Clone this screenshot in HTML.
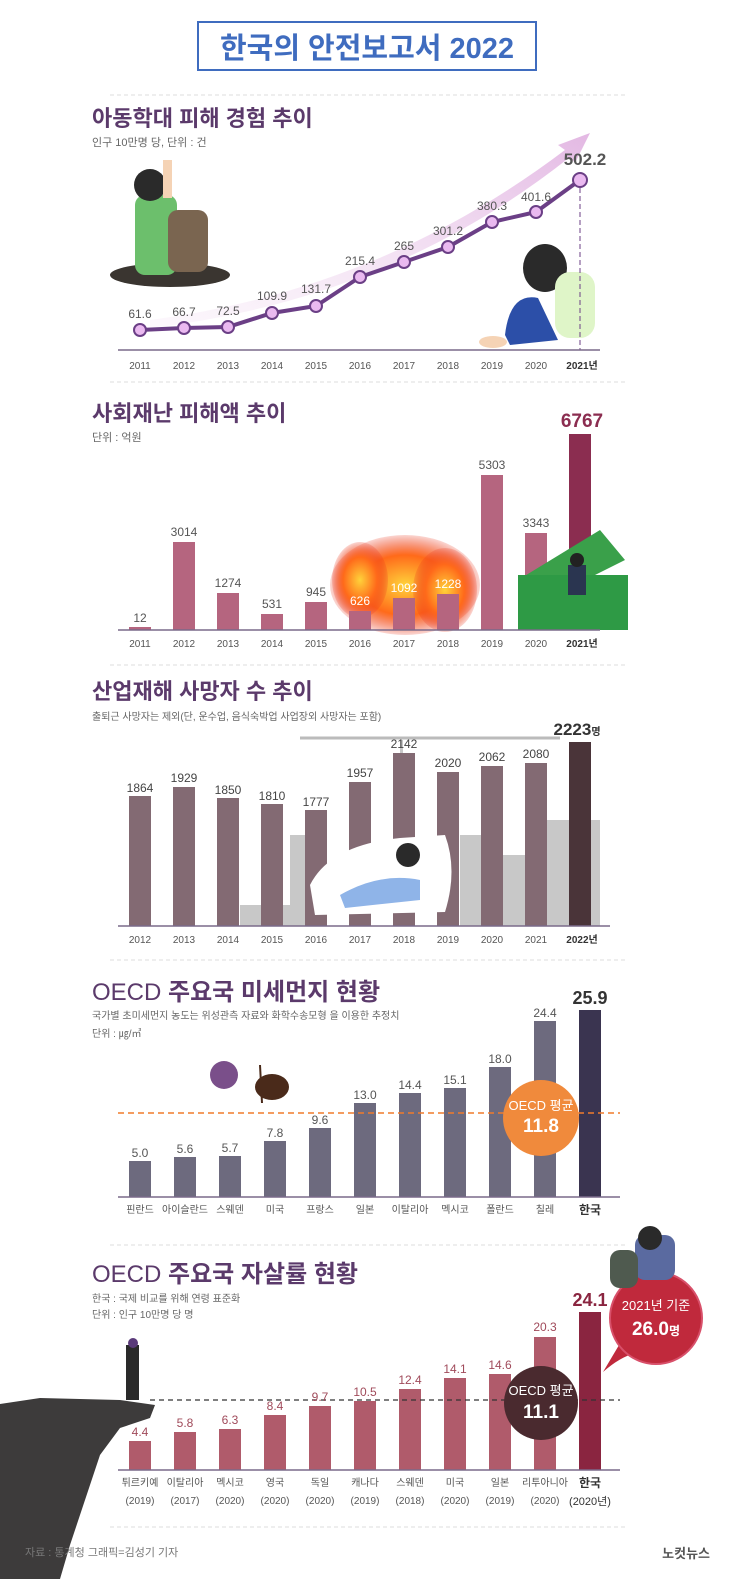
<!DOCTYPE html>
<html><head><meta charset="utf-8"><style>
body{margin:0;background:#fff}
svg{display:block}
text{font-family:"Liberation Sans","Noto Sans CJK KR",sans-serif}
</style></head><body>
<svg width="740" height="1579" viewBox="0 0 740 1579" xmlns="http://www.w3.org/2000/svg">
<defs>
<linearGradient id="ar" x1="0" y1="1" x2="1" y2="0"><stop offset="0" stop-color="#f5e6f5" stop-opacity="0.3"/><stop offset="1" stop-color="#e3b8e3"/></linearGradient>
<radialGradient id="fire"><stop offset="0" stop-color="#ffd23a"/><stop offset="0.6" stop-color="#ff6a1a"/><stop offset="1" stop-color="#e8321a" stop-opacity="0.2"/></radialGradient>
</defs>
<!-- Title -->
<rect x="198" y="22" width="338" height="48" fill="#fff" stroke="#3f6cbf" stroke-width="2"/>
<text x="367" y="58" font-size="29" font-weight="bold" fill="#3f6cbf" text-anchor="middle">한국의 안전보고서 2022</text>

<g stroke="#ddd" stroke-dasharray="4,3" stroke-width="1">
<line x1="110" y1="95" x2="625" y2="95"/><line x1="110" y1="382" x2="625" y2="382"/><line x1="110" y1="665" x2="625" y2="665"/><line x1="110" y1="960" x2="625" y2="960"/><line x1="110" y1="1245" x2="625" y2="1245"/><line x1="110" y1="1527" x2="625" y2="1527"/>
</g>

<!-- Chart 1 -->
<text x="92" y="126" font-size="22" font-weight="bold" fill="#5b3a6b">아동학대 피해 경험 추이</text>
<text x="92" y="146" font-size="11" fill="#666">인구 10만명 당, 단위 : 건</text>
<path d="M150 320 Q380 290 565 150 L558 145 L590 133 L575 163 L570 157 Q390 300 150 328 Z" fill="url(#ar)"/>
<ellipse cx="170" cy="275" rx="60" ry="12" fill="#3a3530"/>
<rect x="135" y="195" width="42" height="80" rx="10" fill="#6cbf6c"/>
<rect x="168" y="210" width="40" height="62" rx="10" fill="#7a6550"/>
<circle cx="150" cy="185" r="16" fill="#2a2a2a"/>
<rect x="163" y="160" width="9" height="38" fill="#f5d3b5"/>
<ellipse cx="545" cy="268" rx="22" ry="24" fill="#2a2a2a"/>
<rect x="555" y="272" width="40" height="66" rx="15" fill="#dff5c8"/>
<path d="M505 335 Q510 292 538 298 L558 340 L510 345 Z" fill="#2c4fa8"/>
<ellipse cx="493" cy="342" rx="14" ry="6" fill="#f5d3b5"/>
<line x1="580" y1="180" x2="580" y2="350" stroke="#6b3f86" stroke-dasharray="5,3"/>
<line x1="118" y1="350" x2="600" y2="350" stroke="#7a6a8a" stroke-width="1.5"/>
<polyline points="140,330 184,328 228,327 272,313 316,306 360,277 404,262 448,247 492,222 536,212 580,180" fill="none" stroke="#6b3f86" stroke-width="4"/>
<g fill="#eab9f0" stroke="#6b3f86" stroke-width="2">
<circle cx="140" cy="330" r="6"/><circle cx="184" cy="328" r="6"/><circle cx="228" cy="327" r="6"/><circle cx="272" cy="313" r="6"/><circle cx="316" cy="306" r="6"/><circle cx="360" cy="277" r="6"/><circle cx="404" cy="262" r="6"/><circle cx="448" cy="247" r="6"/><circle cx="492" cy="222" r="6"/><circle cx="536" cy="212" r="6"/><circle cx="580" cy="180" r="7"/>
</g>
<g font-size="12" fill="#555" text-anchor="middle">
<text x="140" y="318">61.6</text><text x="184" y="316">66.7</text><text x="228" y="315">72.5</text><text x="272" y="300">109.9</text><text x="316" y="293">131.7</text><text x="360" y="265">215.4</text><text x="404" y="250">265</text><text x="448" y="235">301.2</text><text x="492" y="210">380.3</text><text x="536" y="201">401.6</text>
</g>
<text x="585" y="165" font-size="17" font-weight="bold" fill="#555" text-anchor="middle">502.2</text>
<g font-size="10" fill="#555" text-anchor="middle">
<text x="140" y="369">2011</text><text x="184" y="369">2012</text><text x="228" y="369">2013</text><text x="272" y="369">2014</text><text x="316" y="369">2015</text><text x="360" y="369">2016</text><text x="404" y="369">2017</text><text x="448" y="369">2018</text><text x="492" y="369">2019</text><text x="536" y="369">2020</text><text x="582" y="369" font-weight="bold" fill="#333">2021년</text>
</g>

<!-- Chart 2 -->
<text x="92" y="421" font-size="22" font-weight="bold" fill="#5b3a6b">사회재난 피해액 추이</text>
<text x="92" y="441" font-size="11" fill="#666">단위 : 억원</text>
<ellipse cx="405" cy="585" rx="75" ry="50" fill="url(#fire)"/>
<ellipse cx="360" cy="580" rx="28" ry="38" fill="url(#fire)"/>
<ellipse cx="445" cy="590" rx="32" ry="42" fill="url(#fire)"/>
<g fill="#b5657f">
<rect x="129" y="627" width="22" height="3"/><rect x="173" y="542" width="22" height="88"/><rect x="217" y="593" width="22" height="37"/><rect x="261" y="614" width="22" height="16"/><rect x="305" y="602" width="22" height="28"/><rect x="349" y="611" width="22" height="19"/><rect x="393" y="598" width="22" height="32"/><rect x="437" y="594" width="22" height="36"/><rect x="481" y="475" width="22" height="155"/><rect x="525" y="533" width="22" height="97"/>
</g>
<rect x="569" y="434" width="22" height="196" fill="#8b2d50"/>
<path d="M518 580 L600 530 L625 560 L545 600 Z" fill="#3aa04a"/>
<rect x="518" y="575" width="110" height="55" fill="#2e9a45"/>
<rect x="568" y="565" width="18" height="30" fill="#2a3550"/>
<circle cx="577" cy="560" r="7" fill="#222"/>
<line x1="118" y1="630" x2="600" y2="630" stroke="#7a6a8a" stroke-width="1.5"/>
<g font-size="12" fill="#555" text-anchor="middle">
<text x="140" y="622">12</text><text x="184" y="536">3014</text><text x="228" y="587">1274</text><text x="272" y="608">531</text><text x="316" y="596">945</text><text x="360" y="605" fill="#fff">626</text><text x="404" y="592" fill="#fff">1092</text><text x="448" y="588" fill="#fff">1228</text><text x="492" y="469">5303</text><text x="536" y="527">3343</text>
</g>
<text x="582" y="427" font-size="19" font-weight="bold" fill="#8b2d50" text-anchor="middle">6767</text>
<g font-size="10" fill="#555" text-anchor="middle">
<text x="140" y="647">2011</text><text x="184" y="647">2012</text><text x="228" y="647">2013</text><text x="272" y="647">2014</text><text x="316" y="647">2015</text><text x="360" y="647">2016</text><text x="404" y="647">2017</text><text x="448" y="647">2018</text><text x="492" y="647">2019</text><text x="536" y="647">2020</text><text x="582" y="647" font-weight="bold" fill="#333">2021년</text>
</g>

<!-- Chart 3 -->
<text x="92" y="699" font-size="22" font-weight="bold" fill="#5b3a6b">산업재해 사망자 수 추이</text>
<text x="92" y="720" font-size="10" fill="#666">출퇴근 사망자는 제외(단, 운수업, 음식숙박업 사업장외 사망자는 포함)</text>
<g fill="#c8c8c8">
<rect x="240" y="905" width="60" height="21"/><rect x="290" y="835" width="30" height="91"/><rect x="460" y="835" width="40" height="91"/><rect x="500" y="855" width="40" height="71"/><rect x="540" y="820" width="60" height="106"/><rect x="400" y="740" width="3" height="186"/>
</g>
<line x1="300" y1="738" x2="560" y2="738" stroke="#bbb" stroke-width="3"/>
<g fill="#836a73">
<rect x="129" y="796" width="22" height="130"/><rect x="173" y="787" width="22" height="139"/><rect x="217" y="798" width="22" height="128"/><rect x="261" y="804" width="22" height="122"/><rect x="305" y="810" width="22" height="116"/><rect x="349" y="782" width="22" height="144"/><rect x="393" y="753" width="22" height="173"/><rect x="437" y="772" width="22" height="154"/><rect x="481" y="766" width="22" height="160"/><rect x="525" y="763" width="22" height="163"/>
</g>
<rect x="569" y="742" width="22" height="184" fill="#4a3439"/>
<path d="M310 885 Q330 845 400 838 L445 835 Q458 870 445 912 L315 915 Z" fill="#fff"/>
<path d="M340 895 Q380 872 420 880 L420 900 L345 908 Z" fill="#8fb4e8"/>
<circle cx="408" cy="855" r="12" fill="#2a2a2a"/>
<line x1="118" y1="926" x2="610" y2="926" stroke="#7a6a8a" stroke-width="1.5"/>
<g font-size="12" fill="#444" text-anchor="middle">
<text x="140" y="792">1864</text><text x="184" y="782">1929</text><text x="228" y="794">1850</text><text x="272" y="800">1810</text><text x="316" y="806">1777</text><text x="360" y="777">1957</text><text x="404" y="748">2142</text><text x="448" y="767">2020</text><text x="492" y="761">2062</text><text x="536" y="758">2080</text>
</g>
<text x="577" y="735" font-size="17" font-weight="bold" fill="#333" text-anchor="middle">2223<tspan font-size="10">명</tspan></text>
<g font-size="10" fill="#555" text-anchor="middle">
<text x="140" y="943">2012</text><text x="184" y="943">2013</text><text x="228" y="943">2014</text><text x="272" y="943">2015</text><text x="316" y="943">2016</text><text x="360" y="943">2017</text><text x="404" y="943">2018</text><text x="448" y="943">2019</text><text x="492" y="943">2020</text><text x="536" y="943">2021</text><text x="582" y="943" font-weight="bold" fill="#333">2022년</text>
</g>

<!-- Chart 4 -->
<text x="92" y="1000" font-size="24" fill="#5b3a6b">OECD <tspan font-weight="bold">주요국 미세먼지 현황</tspan></text>
<text x="92" y="1019" font-size="10" fill="#666">국가별 초미세먼지 농도는 위성관측 자료와 화학수송모형 을 이용한 추정치</text>
<text x="92" y="1037" font-size="10" fill="#666">단위 : ㎍/㎥</text>
<circle cx="224" cy="1075" r="14" fill="#7a4f8a"/>
<ellipse cx="272" cy="1087" rx="17" ry="13" fill="#4a2a1a"/>
<line x1="260" y1="1065" x2="262" y2="1103" stroke="#4a2a1a" stroke-width="2"/>
<g fill="#6d6a7e">
<rect x="129" y="1161" width="22" height="36"/><rect x="174" y="1157" width="22" height="40"/><rect x="219" y="1156" width="22" height="41"/><rect x="264" y="1141" width="22" height="56"/><rect x="309" y="1128" width="22" height="69"/><rect x="354" y="1103" width="22" height="94"/><rect x="399" y="1093" width="22" height="104"/><rect x="444" y="1088" width="22" height="109"/><rect x="489" y="1067" width="22" height="130"/><rect x="534" y="1021" width="22" height="176"/>
</g>
<rect x="579" y="1010" width="22" height="187" fill="#3a3450"/>
<line x1="118" y1="1113" x2="620" y2="1113" stroke="#f07b2c" stroke-width="1.5" stroke-dasharray="6,4"/>
<circle cx="541" cy="1118" r="38" fill="#f08a3c"/>
<text x="541" y="1110" font-size="13" fill="#fff" text-anchor="middle">OECD 평균</text>
<text x="541" y="1132" font-size="19" font-weight="bold" fill="#fff" text-anchor="middle">11.8</text>
<line x1="118" y1="1197" x2="620" y2="1197" stroke="#7a6a8a" stroke-width="1.5"/>
<g font-size="12" fill="#555" text-anchor="middle">
<text x="140" y="1157">5.0</text><text x="185" y="1153">5.6</text><text x="230" y="1152">5.7</text><text x="275" y="1137">7.8</text><text x="320" y="1124">9.6</text><text x="365" y="1099">13.0</text><text x="410" y="1089">14.4</text><text x="455" y="1084">15.1</text><text x="500" y="1063">18.0</text><text x="545" y="1017">24.4</text>
</g>
<text x="590" y="1004" font-size="18" font-weight="bold" fill="#333" text-anchor="middle">25.9</text>
<g font-size="10" fill="#555" text-anchor="middle">
<text x="140" y="1213">핀란드</text><text x="185" y="1213">아이슬란드</text><text x="230" y="1213">스웨덴</text><text x="275" y="1213">미국</text><text x="320" y="1213">프랑스</text><text x="365" y="1213">일본</text><text x="410" y="1213">이탈리아</text><text x="455" y="1213">멕시코</text><text x="500" y="1213">폴란드</text><text x="545" y="1213">칠레</text><text x="590" y="1214" font-weight="bold" font-size="12" fill="#333">한국</text>
</g>

<!-- Chart 5 -->
<text x="92" y="1282" font-size="24" fill="#5b3a6b">OECD <tspan font-weight="bold">주요국 자살률 현황</tspan></text>
<text x="92" y="1302" font-size="10" fill="#666">한국 : 국제 비교를 위해 연령 표준화</text>
<text x="92" y="1318" font-size="10" fill="#666">단위 : 인구 10만명 당 명</text>
<path d="M0 1404 L40 1398 L120 1400 L155 1405 L150 1418 L120 1428 L100 1455 L85 1500 L70 1545 L60 1579 L0 1579 Z" fill="#3d3b3b"/>
<rect x="126" y="1345" width="13" height="55" fill="#2a2a2a"/>
<circle cx="133" cy="1343" r="5" fill="#5a3a7a"/>
<g fill="#b05b6b">
<rect x="129" y="1441" width="22" height="29"/><rect x="174" y="1432" width="22" height="38"/><rect x="219" y="1429" width="22" height="41"/><rect x="264" y="1415" width="22" height="55"/><rect x="309" y="1406" width="22" height="64"/><rect x="354" y="1401" width="22" height="69"/><rect x="399" y="1389" width="22" height="81"/><rect x="444" y="1378" width="22" height="92"/><rect x="489" y="1374" width="22" height="96"/><rect x="534" y="1337" width="22" height="133"/>
</g>
<rect x="579" y="1312" width="22" height="158" fill="#8a2540"/>
<line x1="150" y1="1400" x2="620" y2="1400" stroke="#333" stroke-width="1.2" stroke-dasharray="5,4"/>
<circle cx="541" cy="1403" r="37" fill="#4a2a2f"/>
<text x="541" y="1395" font-size="13" fill="#fff" text-anchor="middle">OECD 평균</text>
<text x="541" y="1418" font-size="19" font-weight="bold" fill="#fff" text-anchor="middle">11.1</text>
<path d="M603 1372 Q622 1355 640 1352 L625 1335 Z" fill="#c0293c"/>
<circle cx="656" cy="1318" r="46" fill="#c0293c" stroke="#d8506a" stroke-width="2"/>
<rect x="635" y="1235" width="40" height="45" rx="10" fill="#5a6aa0"/>
<rect x="610" y="1250" width="28" height="38" rx="10" fill="#4f5a4f"/>
<circle cx="650" cy="1238" r="12" fill="#2a2a2a"/>
<text x="656" y="1310" font-size="13" fill="#fff" text-anchor="middle">2021년 기준</text>
<text x="656" y="1335" font-size="19" font-weight="bold" fill="#fff" text-anchor="middle">26.0<tspan font-size="12">명</tspan></text>
<line x1="118" y1="1470" x2="620" y2="1470" stroke="#7a6a8a" stroke-width="1.5"/>
<g font-size="12" fill="#a04a5a" text-anchor="middle">
<text x="140" y="1436">4.4</text><text x="185" y="1427">5.8</text><text x="230" y="1424">6.3</text><text x="275" y="1410">8.4</text><text x="320" y="1401">9.7</text><text x="365" y="1396">10.5</text><text x="410" y="1384">12.4</text><text x="455" y="1373">14.1</text><text x="500" y="1369">14.6</text><text x="545" y="1331">20.3</text>
</g>
<text x="590" y="1306" font-size="18" font-weight="bold" fill="#8a2540" text-anchor="middle">24.1</text>
<g font-size="10" fill="#555" text-anchor="middle">
<text x="140" y="1486">튀르키예</text><text x="185" y="1486">이탈리아</text><text x="230" y="1486">멕시코</text><text x="275" y="1486">영국</text><text x="320" y="1486">독일</text><text x="365" y="1486">캐나다</text><text x="410" y="1486">스웨덴</text><text x="455" y="1486">미국</text><text x="500" y="1486">일본</text><text x="545" y="1486">리투아니아</text>
<text x="140" y="1504">(2019)</text><text x="185" y="1504">(2017)</text><text x="230" y="1504">(2020)</text><text x="275" y="1504">(2020)</text><text x="320" y="1504">(2020)</text><text x="365" y="1504">(2019)</text><text x="410" y="1504">(2018)</text><text x="455" y="1504">(2020)</text><text x="500" y="1504">(2019)</text><text x="545" y="1504">(2020)</text>
<text x="590" y="1487" font-size="12" font-weight="bold" fill="#333">한국</text><text x="590" y="1505" font-size="11" fill="#333">(2020년)</text>
</g>
<text x="25" y="1556" font-size="11" fill="#777">자료 : 통계청    그래픽=김성기 기자</text>
<text x="710" y="1558" font-size="13" font-weight="bold" fill="#555" text-anchor="end">노컷뉴스</text>
</svg>
</body></html>
